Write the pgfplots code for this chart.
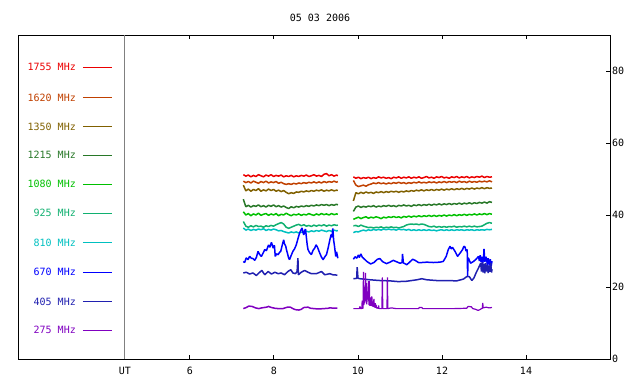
\documentclass[border=0pt]{standalone}
\usepackage{fontspec}
\setmainfont{DejaVu Sans Mono}
\usepackage{pgfplots}
\usepackage{pgfplotstable}
\pgfplotsset{compat=1.18}
\definecolor{c1755}{RGB}{235,0,0}
\definecolor{c1620}{RGB}{192,64,0}
\definecolor{c1350}{RGB}{128,96,0}
\definecolor{c1215}{RGB}{40,120,40}
\definecolor{c1080}{RGB}{0,192,0}
\definecolor{c925}{RGB}{16,176,112}
\definecolor{c810}{RGB}{0,192,192}
\definecolor{c670}{RGB}{0,0,255}
\definecolor{c405}{RGB}{32,32,176}
\definecolor{c275}{RGB}{128,0,192}

% segment 1: x, 1755, 1620, 1350, 1215, 1080, 925, 810
\pgfplotstableread{
x a b c d e f g
7.27 51.2 49.4 48.3 44.4 40.9 38.2 36.4
7.33 50.8 49.0 46.7 42.3 40.0 36.9 35.8
7.39 51.1 49.3 47.2 42.7 40.4 36.6 36.1
7.45 50.6 48.9 46.6 42.2 39.8 37.0 35.7
7.51 51.0 49.4 47.1 42.6 40.3 36.7 36.0
7.57 50.7 49.1 46.8 42.4 40.0 37.1 35.8
7.63 51.2 48.8 47.3 42.8 40.5 36.8 36.1
7.69 50.9 49.3 46.6 42.3 39.9 36.9 35.9
7.75 50.6 49.0 47.0 42.6 40.2 36.6 36.2
7.81 51.1 49.4 46.7 42.2 40.4 37.0 35.7
7.87 50.8 48.9 47.2 42.7 39.9 36.8 36.0
7.93 51.2 49.2 46.8 42.4 40.3 37.1 35.8
7.99 50.7 49.0 47.1 42.8 40.0 36.9 36.1
8.05 51.0 49.3 46.6 42.3 40.4 37.3 35.9
8.11 50.8 48.8 46.9 42.6 39.8 37.6 35.6
8.17 51.1 49.1 46.5 42.2 40.2 37.9 35.7
8.23 50.6 48.7 46.8 42.5 40.0 37.5 35.4
8.29 50.9 48.5 46.3 42.1 40.5 36.6 35.2
8.35 50.7 48.7 45.9 41.8 40.1 36.3 35.0
8.41 51.0 48.5 46.2 42.3 39.8 36.6 35.3
8.47 50.6 48.8 46.0 42.0 40.2 36.9 35.1
8.53 50.9 48.6 46.4 42.4 40.0 37.2 35.3
8.59 50.7 48.9 46.3 42.2 40.3 37.4 35.0
8.65 51.0 48.7 46.6 42.5 39.9 37.0 35.2
8.71 50.8 49.0 46.4 42.3 40.2 37.3 35.4
8.77 51.1 48.8 46.7 42.6 40.0 36.9 35.5
8.83 50.7 49.1 46.5 42.4 40.4 37.1 35.3
8.89 50.9 48.9 46.8 42.7 40.1 36.8 35.6
8.95 51.2 49.2 46.6 42.5 39.9 37.2 35.4
9.01 50.8 48.9 46.9 42.8 40.3 36.9 35.7
9.07 51.0 49.2 46.7 42.6 40.0 37.2 35.5
9.13 50.7 48.9 47.0 42.9 40.4 37.0 35.8
9.19 51.3 49.3 46.6 42.7 40.1 37.3 35.6
9.25 51.5 49.0 46.9 42.9 40.3 36.9 35.4
9.31 50.9 49.3 46.7 42.6 40.0 37.2 35.7
9.37 51.2 49.1 47.0 42.9 40.4 37.0 35.5
9.43 50.8 49.4 46.7 42.7 40.1 37.3 35.8
9.49 51.1 49.1 46.9 43.0 40.3 37.1 35.6
9.52 50.9 49.3 46.8 42.8 40.2 37.2 35.7
}\segA

% segment 2
\pgfplotstableread{
x a b c d e f g
9.89 50.6 49.6 43.9 41.0 38.8 37.0 35.1
9.95 50.2 48.3 46.2 42.2 39.1 37.1 35.4
10.01 50.5 47.9 45.9 42.5 39.4 36.8 35.3
10.07 50.1 48.1 46.3 42.1 39.0 37.2 35.6
10.13 50.4 48.3 46.0 42.4 39.3 36.9 35.8
10.19 50.2 48.0 46.4 42.2 39.5 36.7 35.6
10.25 50.5 48.4 46.1 42.5 39.1 36.5 35.9
10.31 50.1 48.6 46.3 42.3 39.4 36.6 35.7
10.37 50.4 48.9 46.0 42.6 39.2 36.4 36.0
10.43 50.2 48.7 46.4 42.2 39.5 36.6 35.8
10.49 50.6 49.0 46.2 42.5 39.3 36.5 36.0
10.55 50.3 48.7 46.5 42.3 39.0 36.7 35.8
10.61 50.5 48.9 46.2 42.6 39.4 36.4 36.1
10.67 50.2 48.6 46.5 42.4 39.2 36.6 35.9
10.73 50.4 48.9 46.3 42.7 39.5 36.5 36.1
10.79 50.1 48.7 46.6 42.4 39.3 36.7 35.9
10.85 50.5 49.0 46.4 42.6 39.6 36.5 36.0
10.91 50.3 48.8 46.6 42.3 39.3 36.6 35.8
10.97 50.6 49.1 46.3 42.7 39.5 36.4 36.1
11.03 50.2 48.8 46.6 42.5 39.2 36.6 35.9
11.09 50.5 49.0 46.4 42.8 39.6 36.8 36.0
11.15 50.3 48.7 46.7 42.5 39.4 37.2 35.8
11.21 50.6 49.0 46.5 42.7 39.7 37.4 36.0
11.27 50.2 48.8 46.8 42.4 39.4 37.5 35.7
11.33 50.5 49.1 46.6 42.8 39.7 37.4 35.9
11.39 50.3 48.9 46.9 42.6 39.5 37.5 35.7
11.45 50.6 49.2 46.7 42.9 39.8 37.3 35.9
11.51 50.2 48.9 47.0 42.6 39.5 37.5 35.7
11.57 50.4 49.1 46.7 42.9 39.8 37.4 35.9
11.63 50.7 48.9 47.0 42.7 39.6 37.1 35.7
11.69 50.3 49.2 46.8 43.0 39.9 36.8 35.9
11.75 50.5 49.0 47.1 42.7 39.6 36.7 35.7
11.81 50.2 49.2 46.8 43.0 39.9 36.9 35.8
11.87 50.6 48.9 47.1 42.8 39.6 36.6 35.6
11.93 50.4 49.2 46.9 43.1 39.9 36.8 35.8
11.99 50.7 49.0 47.2 42.8 39.7 36.6 35.9
12.05 50.3 49.3 46.9 43.1 40.0 36.8 35.7
12.11 50.5 49.0 47.2 42.9 39.7 36.6 35.9
12.17 50.2 49.3 47.0 43.2 40.0 36.8 35.7
12.23 50.6 49.1 47.3 42.9 39.8 36.7 35.9
12.29 50.4 49.3 47.0 43.2 40.1 36.9 35.7
12.35 50.7 49.0 47.3 43.0 39.8 36.6 35.9
12.41 50.3 49.4 47.1 43.3 40.1 36.8 35.8
12.47 50.6 49.1 47.4 43.0 39.9 36.7 35.9
12.53 50.4 49.3 47.1 43.3 40.2 36.9 35.7
12.59 50.7 49.0 47.4 43.1 39.9 36.7 35.9
12.65 50.3 49.4 47.2 43.4 40.2 36.9 35.8
12.71 50.6 49.1 47.5 43.1 40.0 36.7 35.9
12.77 50.4 49.3 47.2 43.4 40.3 36.9 35.7
12.83 50.7 49.1 47.5 43.2 40.0 36.7 35.9
12.89 50.5 49.4 47.3 43.5 40.3 36.8 35.8
12.95 50.8 49.2 47.6 43.3 40.1 36.9 35.9
13.01 50.4 49.4 47.3 43.6 40.4 37.3 35.8
13.07 50.7 49.2 47.6 43.3 40.1 37.7 36.0
13.13 50.5 49.5 47.4 43.7 40.4 37.9 35.9
13.19 50.6 49.2 47.5 43.5 40.2 37.7 36.0
}\segB

\begin{document}
\fontsize{10bp}{12bp}\selectfont
\begin{tikzpicture}[font=\fontsize{10bp}{12bp}\selectfont]
\useasboundingbox (-18bp,-25bp) rectangle (622bp,359bp);
\begin{axis}[
  scale only axis, width=592bp, height=324bp,
  xmin=1.905, xmax=16, ymin=0, ymax=90,
  xtick={6,8,10,12,14}, ytick={0,20,40,60,80},
  xtick pos=both, ytick pos=right, yticklabel pos=right, xticklabel pos=bottom,
  tick align=inside, major tick length=4bp,
  every tick/.style={black, line width=1bp},
  axis line style={line width=1bp},
  /pgf/number format/assume math mode=true,
  xticklabel style={inner sep=0pt, yshift=-8bp},
  yticklabel style={inner sep=0pt, xshift=2bp},
  every axis plot/.append style={line width=1.5bp, mark=none, line join=bevel},
  clip=false,
]
% UT divider
\draw[color=gray, line width=1bp] (axis cs:4.45,0) -- (axis cs:4.45,90);

% segment 1
\addplot[c1755] table[x=x,y=a] {\segA};
\addplot[c1620] table[x=x,y=b] {\segA};
\addplot[c1350] table[x=x,y=c] {\segA};
\addplot[c1215] table[x=x,y=d] {\segA};
\addplot[c1080] table[x=x,y=e] {\segA};
\addplot[c925] table[x=x,y=f] {\segA};
\addplot[c810] table[x=x,y=g] {\segA};
% segment 2
\addplot[c1755] table[x=x,y=a] {\segB};
\addplot[c1620] table[x=x,y=b] {\segB};
\addplot[c1350] table[x=x,y=c] {\segB};
\addplot[c1215] table[x=x,y=d] {\segB};
\addplot[c1080] table[x=x,y=e] {\segB};
\addplot[c925] table[x=x,y=f] {\segB};
\addplot[c810] table[x=x,y=g] {\segB};

% 670 MHz
\addplot[c670] coordinates {(7.27,27.1) (7.30,26.8) (7.34,28.1) (7.38,27.6) (7.42,28.5) (7.46,28.0) (7.50,27.9) (7.54,27.4) (7.58,28.2) (7.62,29.9) (7.66,29.0) (7.70,28.5) (7.74,29.4) (7.78,30.4) (7.82,30.1) (7.87,31.7) (7.90,31.0) (7.94,32.4) (7.98,30.8) (8.01,31.6) (8.03,28.5) (8.06,29.2) (8.10,29.0) (8.13,29.6) (8.16,29.9) (8.20,31.8) (8.23,33.1) (8.25,32.0) (8.28,31.3) (8.30,30.2) (8.32,29.4) (8.35,28.0) (8.37,27.6) (8.41,28.8) (8.45,29.9) (8.49,30.6) (8.53,31.7) (8.57,33.4) (8.61,35.0) (8.64,35.8) (8.67,36.4) (8.69,35.1) (8.71,34.5) (8.73,35.6) (8.75,36.1) (8.77,33.9) (8.79,31.8) (8.81,30.4) (8.85,29.5) (8.89,29.0) (8.93,30.2) (8.97,30.8) (9.00,31.7) (9.03,31.2) (9.06,30.3) (9.09,29.4) (9.13,28.3) (9.17,27.6) (9.21,28.4) (9.25,29.0) (9.29,30.9) (9.33,33.1) (9.36,34.6) (9.38,33.8) (9.40,36.3) (9.42,33.0) (9.44,31.4) (9.47,28.5) (9.49,29.8) (9.52,28.0)};
\addplot[c670] coordinates {(9.89,27.7) (9.93,28.4) (9.97,28.0) (10.01,28.9) (10.03,28.2) (10.05,28.7) (10.07,29.2) (10.10,28.3) (10.13,28.0) (10.21,27.1) (10.30,26.4) (10.38,26.8) (10.46,27.7) (10.52,27.9) (10.59,27.0) (10.68,26.5) (10.76,26.9) (10.84,27.4) (10.92,27.0) (11.00,26.6) (11.05,26.8) (11.06,29.2) (11.08,26.7) (11.16,26.2) (11.22,26.8) (11.30,27.7) (11.36,27.4) (11.44,26.8) (11.52,26.8) (11.64,26.9) (11.79,26.8) (11.95,26.9) (12.03,27.1) (12.10,28.5) (12.15,30.4) (12.19,31.3) (12.22,30.6) (12.25,31.0) (12.31,29.9) (12.37,28.5) (12.43,29.4) (12.49,30.4) (12.52,31.3) (12.55,31.1) (12.57,30.0) (12.60,30.4) (12.61,22.9) (12.62,28.0) (12.63,28.0) (12.68,26.6) (12.75,27.1) (12.81,27.7) (12.87,28.5) (12.89,27.2) (12.91,28.8) (12.93,26.9) (12.95,28.4) (12.97,26.6) (12.99,28.2) (13.00,30.6) (13.02,27.0) (13.05,28.4) (13.08,26.2) (13.10,28.0) (13.13,26.0) (13.15,27.7) (13.17,25.8) (13.19,27.2)};

% 405 MHz
\addplot[c405] coordinates {(7.27,23.9) (7.34,24.1) (7.42,23.6) (7.50,23.9) (7.58,23.2) (7.64,23.9) (7.71,24.6) (7.78,23.4) (7.86,24.3) (7.94,23.6) (8.02,24.1) (8.10,23.7) (8.17,23.9) (8.25,23.4) (8.33,24.3) (8.40,24.8) (8.45,23.9) (8.51,23.7) (8.55,24.3) (8.57,28.0) (8.58,23.4) (8.65,24.1) (8.73,24.6) (8.81,24.1) (8.89,23.7) (9.01,23.7) (9.13,24.3) (9.21,23.4) (9.33,23.7) (9.40,23.4) (9.51,23.3)};
\addplot[c405] coordinates {(9.89,22.3) (9.97,22.4) (9.98,25.5) (10.00,22.4) (10.05,22.3) (10.29,22.0) (10.52,21.8) (10.76,21.7) (10.96,21.5) (11.16,21.6) (11.40,22.0) (11.52,22.3) (11.64,22.0) (11.87,21.8) (12.11,21.8) (12.35,21.7) (12.51,22.2) (12.59,22.9) (12.65,22.9) (12.71,21.8) (12.76,22.5) (12.81,23.9) (12.87,25.3) (12.92,26.6) (12.94,24.3) (12.96,26.9) (12.98,24.0) (13.00,26.5) (13.02,23.8) (13.04,26.7) (13.06,24.3) (13.08,26.1) (13.10,23.9) (13.12,26.0) (13.14,24.2) (13.16,26.6) (13.18,24.0) (13.19,25.0)};

% 275 MHz
\addplot[c275] coordinates {(7.27,14.0) (7.34,14.3) (7.40,14.7) (7.48,14.6) (7.56,14.2) (7.64,14.0) (7.71,14.2) (7.82,14.4) (7.87,14.6) (7.94,14.3) (8.02,14.1) (8.10,14.0) (8.21,14.0) (8.32,14.4) (8.39,14.4) (8.45,14.0) (8.51,13.7) (8.59,13.6) (8.65,13.8) (8.71,14.3) (8.81,14.4) (8.87,14.1) (8.95,14.0) (9.05,13.9) (9.19,14.0) (9.29,14.1) (9.33,14.2) (9.45,14.1) (9.51,14.1)};
\addplot[c275, line width=1.2bp] coordinates {(9.89,14.0) (10.03,14.0) (10.05,14.6) (10.06,14.0) (10.09,14.0) (10.10,16.2) (10.11,14.0) (10.12,14.2) (10.13,24.2) (10.14,15.0) (10.15,18.8) (10.16,15.5) (10.17,17.0) (10.18,23.9) (10.19,16.0) (10.20,21.1) (10.21,15.2) (10.22,18.8) (10.23,16.5) (10.24,17.5) (10.25,21.6) (10.26,15.0) (10.27,21.6) (10.28,14.8) (10.29,16.0) (10.30,17.1) (10.31,14.8) (10.32,16.5) (10.33,17.4) (10.34,14.6) (10.35,16.0) (10.36,14.5) (10.38,16.7) (10.39,14.3) (10.41,15.5) (10.42,14.2) (10.43,15.1) (10.44,14.1) (10.46,14.3) (10.48,14.0) (10.49,14.9) (10.50,14.0) (10.57,14.0) (10.58,22.7) (10.59,14.0) (10.69,14.0) (10.70,22.7) (10.71,14.0) (10.80,14.2) (10.90,14.0) (11.44,14.0) (11.46,14.3) (11.52,14.3) (11.54,14.0) (12.00,14.0) (12.30,14.0) (12.59,14.1) (12.62,14.6) (12.70,14.5) (12.73,14.0) (12.80,13.8) (12.86,13.5) (12.90,13.7) (12.94,14.0) (12.96,14.1) (12.97,15.6) (12.98,14.2) (13.05,14.4) (13.12,14.2) (13.19,14.3)};

% key on the left
\addplot[c1755, line width=1bp] coordinates {(3.45,81.0) (4.143,81.0)};
\addplot[c1620, line width=1bp] coordinates {(3.45,72.6) (4.143,72.6)};
\addplot[c1350, line width=1bp] coordinates {(3.45,64.6) (4.143,64.6)};
\addplot[c1215, line width=1bp] coordinates {(3.45,56.6) (4.143,56.6)};
\addplot[c1080, line width=1bp] coordinates {(3.45,48.6) (4.143,48.6)};
\addplot[c925, line width=1bp] coordinates {(3.45,40.5) (4.143,40.5)};
\addplot[c810, line width=1bp] coordinates {(3.45,32.4) (4.143,32.4)};
\addplot[c670, line width=1bp] coordinates {(3.45,24.1) (4.143,24.1)};
\addplot[c405, line width=1bp] coordinates {(3.45,16.0) (4.143,16.0)};
\addplot[c275, line width=1bp] coordinates {(3.45,8.0) (4.143,8.0)};
\node[anchor=east, inner sep=0pt, text=c1755] at (axis cs:3.286,81.0) {1755 MHz};
\node[anchor=east, inner sep=0pt, text=c1620] at (axis cs:3.286,72.6) {1620 MHz};
\node[anchor=east, inner sep=0pt, text=c1350] at (axis cs:3.286,64.6) {1350 MHz};
\node[anchor=east, inner sep=0pt, text=c1215] at (axis cs:3.286,56.6) {1215 MHz};
\node[anchor=east, inner sep=0pt, text=c1080] at (axis cs:3.286,48.6) {1080 MHz};
\node[anchor=east, inner sep=0pt, text=c925] at (axis cs:3.286,40.5) {925 MHz};
\node[anchor=east, inner sep=0pt, text=c810] at (axis cs:3.286,32.4) {810 MHz};
\node[anchor=east, inner sep=0pt, text=c670] at (axis cs:3.286,24.1) {670 MHz};
\node[anchor=east, inner sep=0pt, text=c405] at (axis cs:3.286,16.0) {405 MHz};
\node[anchor=east, inner sep=0pt, text=c275] at (axis cs:3.286,8.0) {275 MHz};

\node[anchor=north, inner sep=0pt, yshift=-8bp] at (axis cs:4.45,0) {UT};
\node[inner sep=0pt] at (rel axis cs:0.5101,1.054) {05 03 2006};
\end{axis}
\end{tikzpicture}
\end{document}
